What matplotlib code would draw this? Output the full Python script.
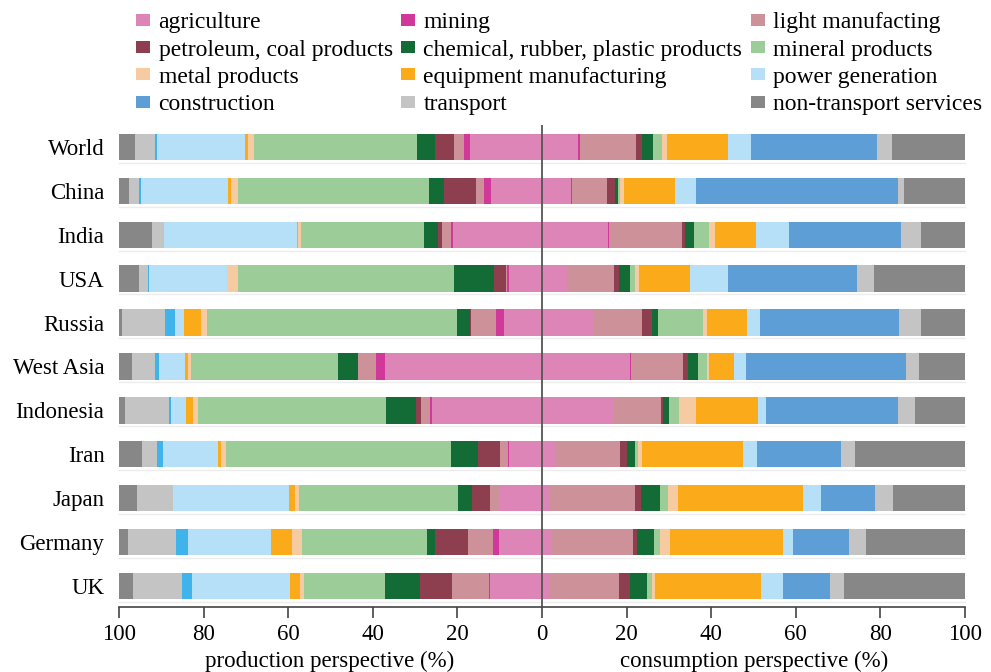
import matplotlib
matplotlib.use('Agg')
import matplotlib.pyplot as plt
from matplotlib.patches import Patch
import numpy as np

plt.rcParams['font.family'] = ['Liberation Serif', 'DejaVu Serif']
plt.rcParams['font.size'] = 15

countries = ['World', 'China', 'India', 'USA', 'Russia', 'West Asia',
             'Indonesia', 'Iran', 'Japan', 'Germany', 'UK']

sectors = ['agriculture', 'mining', 'light manufacting', 'petroleum, coal products',
           'chemical, rubber, plastic products', 'mineral products', 'metal products',
           'equipment manufacturing', 'power generation', 'construction',
           'transport', 'non-transport services']

colors = ['#de85b8', '#d0399a', '#cc9199', '#8e3f4f', '#136b36', '#9ccc98',
          '#f7cba1', '#fbab19', '#b6e0f7', '#5d9ed6', '#c4c4c4', '#878787']
# construction on the production side is drawn in a brighter blue
left_colors = colors[:9] + ['#40b3ea'] + colors[10:]

# production perspective (%), one row per country, columns follow `sectors`
production = [
    [17.1, 1.4, 2.2, 4.5, 4.3, 38.6, 1.5, 0.7, 20.7, 0.6, 4.6, 3.8],
    [12.1, 1.7, 1.7, 7.7, 3.5, 45.3, 1.6, 0.6, 20.6, 0.6, 2.3, 2.3],
    [21.0, 0.5, 2.2, 0.8, 3.4, 29.0, 0.8, 0.2, 31.5, 0.1, 2.8, 7.7],
    [7.7, 0.6, 0.2, 2.8, 9.6, 51.1, 2.4, 0.1, 18.4, 0.3, 2.0, 4.8],
    [8.9, 1.9, 6.1, 0.1, 3.0, 59.2, 1.5, 3.9, 2.1, 2.5, 10.2, 0.6],
    [37.2, 2.0, 4.3, 0.1, 4.7, 34.7, 0.8, 0.6, 6.1, 1.0, 5.4, 3.1],
    [25.9, 0.6, 2.0, 1.3, 7.1, 44.5, 1.1, 1.6, 3.7, 0.4, 10.3, 1.5],
    [7.9, 0.1, 1.9, 5.3, 6.4, 53.1, 1.2, 0.8, 13.0, 1.4, 3.6, 5.3],
    [10.1, 0.1, 2.0, 4.4, 3.2, 37.6, 1.1, 1.3, 27.4, 0.1, 8.4, 4.3],
    [10.2, 1.4, 6.0, 7.8, 1.9, 29.5, 2.3, 4.9, 19.8, 2.8, 11.4, 2.0],
    [12.3, 0.2, 8.7, 7.7, 8.3, 19.0, 1.1, 2.2, 23.3, 2.4, 11.6, 3.2],
]

# consumption perspective (%)
consumption = [
    [8.6, 0.3, 13.4, 1.4, 2.5, 2.2, 1.2, 14.5, 5.3, 29.7, 3.6, 17.3],
    [6.8, 0.2, 8.4, 1.9, 0.7, 0.5, 0.8, 12.2, 4.9, 47.7, 1.5, 14.4],
    [15.7, 0.1, 17.3, 0.8, 2.0, 3.5, 1.4, 9.9, 7.8, 26.5, 4.6, 10.4],
    [5.8, 0.0, 11.3, 1.1, 2.5, 1.3, 0.9, 12.2, 9.0, 30.4, 4.1, 21.4],
    [12.3, 0.1, 11.3, 2.2, 1.6, 10.6, 0.8, 9.6, 3.1, 32.8, 5.2, 10.4],
    [20.9, 0.1, 12.4, 1.1, 2.4, 2.2, 0.4, 5.8, 2.9, 37.8, 3.1, 10.9],
    [16.8, 0.0, 11.3, 0.6, 1.4, 2.2, 4.1, 14.7, 1.9, 31.2, 4.1, 11.7],
    [3.0, 0.0, 15.5, 1.6, 1.9, 0.7, 1.0, 23.8, 3.3, 20.0, 3.2, 26.0],
    [1.7, 0.0, 20.3, 1.5, 4.4, 1.9, 2.4, 29.6, 4.2, 12.8, 4.2, 17.0],
    [2.4, 0.0, 19.1, 0.9, 4.1, 1.4, 2.4, 26.6, 2.4, 13.2, 4.0, 23.5],
    [1.7, 0.0, 16.5, 2.7, 3.9, 1.2, 0.8, 25.0, 5.3, 11.1, 3.2, 28.6],
]

prod = np.array(production)
cons = np.array(consumption)
y = np.arange(len(countries))

fig = plt.figure(figsize=(9.91, 6.72), dpi=100)
ax = fig.add_axes([117 / 991, 1 - 607 / 672, 850 / 991, 482 / 672])

h = 0.6
left_start = np.zeros(len(countries))
right_start = np.zeros(len(countries))
for i in range(len(sectors)):
    ax.barh(y, -prod[:, i], left=-left_start, height=h, color=left_colors[i], lw=0)
    ax.barh(y, cons[:, i], left=right_start, height=h, color=colors[i], lw=0)
    left_start += prod[:, i]
    right_start += cons[:, i]

# faint lines under the bars
for yy in y:
    ax.plot([-100, 100], [yy + h / 2 + 0.06] * 2, color='#ececec', lw=1, zorder=0)

ax.axvline(0, color='#555555', lw=1.3)
ax.set_xlim(-100.5, 100.5)
ax.set_ylim(10.48, -0.5)

ax.set_yticks(y)
ax.set_yticklabels(countries, fontsize=16.5)
ax.tick_params(axis='y', length=0, pad=9)
ticks = np.arange(-100, 101, 20)
ax.set_xticks(ticks)
ax.set_xticklabels([str(abs(t)) for t in ticks], fontsize=16.5)
ax.tick_params(axis='x', direction='out', length=8, width=1.2, color='#444444', pad=4)

for s in ['top', 'right', 'left']:
    ax.spines[s].set_visible(False)
ax.spines['bottom'].set_color('#444444')
ax.spines['bottom'].set_linewidth(1.2)
ax.spines['bottom'].set_bounds(-100, 100)

fig.text((117 + 542) / 2 / 991, 1 - 661 / 672, 'production perspective (%)',
         ha='center', va='center', fontsize=16.5)
fig.text((542 + 967) / 2 / 991, 1 - 661 / 672, 'consumption perspective (%)',
         ha='center', va='center', fontsize=16.5)

# legend filled row by row like the original
handles = [Patch(color=c, lw=0) for c in colors]
order = [0, 3, 6, 9, 1, 4, 7, 10, 2, 5, 8, 11]
fig.legend([handles[k] for k in order], [sectors[k] for k in order],
           ncol=3, loc='upper left', bbox_to_anchor=(122 / 991, 1.003),
           frameon=False, fontsize=17, handlelength=0.6, handleheight=0.4,
           handletextpad=0.35, columnspacing=0.35, labelspacing=0.27,
           borderaxespad=0.2)

fig.savefig('out.png', dpi=100, facecolor='white')
